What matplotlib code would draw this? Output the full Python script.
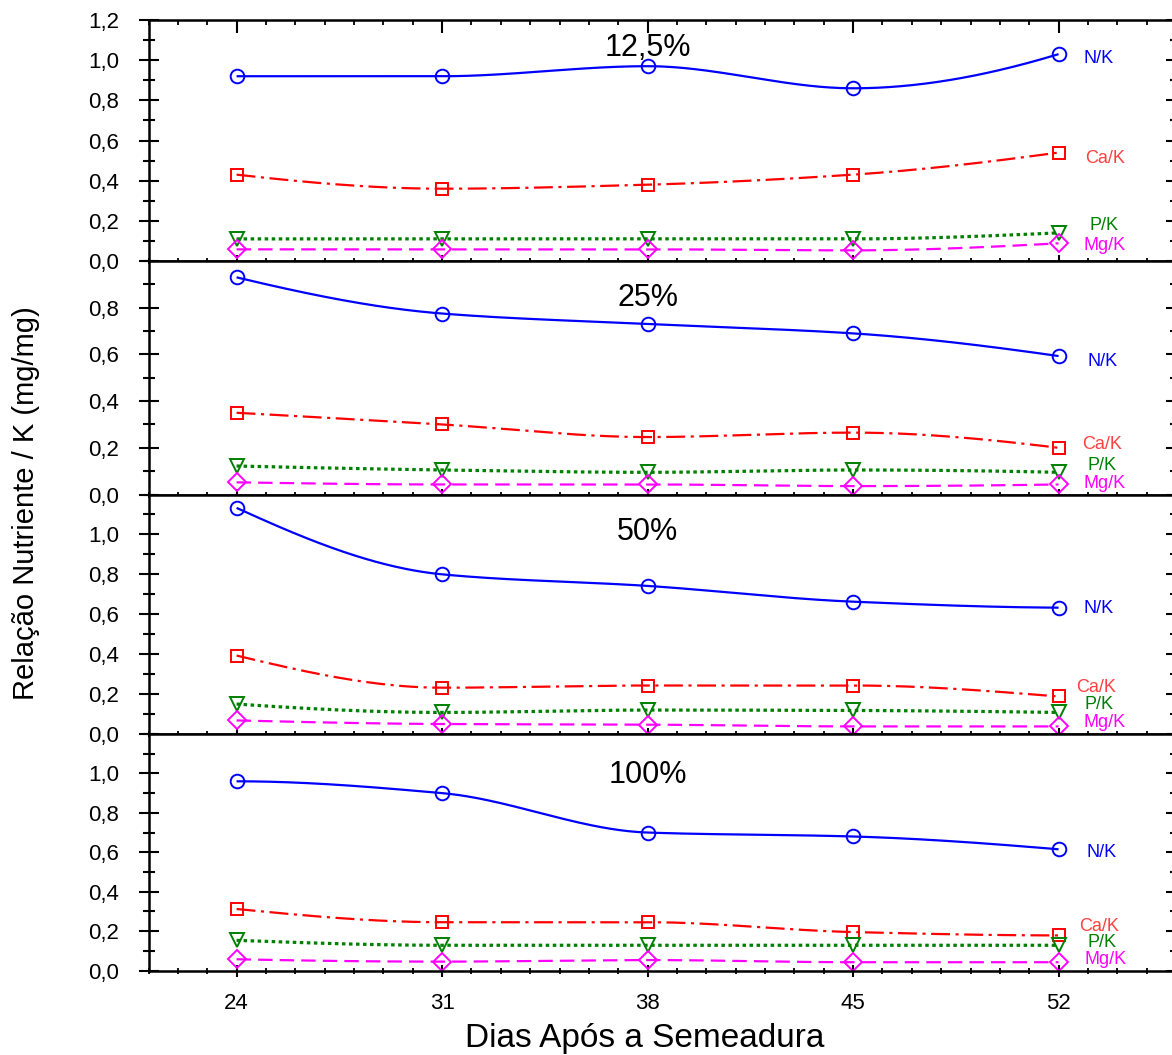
import numpy as np
import matplotlib
matplotlib.use("Agg")
import matplotlib.pyplot as plt
from matplotlib.ticker import MultipleLocator, FixedLocator, FuncFormatter

plt.rcParams['font.family'] = ['Liberation Sans', 'DejaVu Sans']

# ---------------- data ----------------
days = [24, 31, 38, 45, 52]
panel_titles = ['12,5%', '25%', '50%', '100%']
series_names = ['N/K', 'Ca/K', 'P/K', 'Mg/K']

nk_125 = [0.92, 0.92, 0.97, 0.86, 1.03]
cak_125 = [0.43, 0.36, 0.38, 0.43, 0.54]
pk_125 = [0.11, 0.11, 0.11, 0.11, 0.14]
mgk_125 = [0.058, 0.058, 0.058, 0.053, 0.088]

nk_25 = [0.93, 0.775, 0.73, 0.69, 0.593]
cak_25 = [0.35, 0.30, 0.246, 0.265, 0.20]
pk_25 = [0.122, 0.105, 0.095, 0.105, 0.095]
mgk_25 = [0.052, 0.043, 0.043, 0.036, 0.043]

nk_50 = [1.133, 0.80, 0.742, 0.663, 0.633]
cak_50 = [0.393, 0.232, 0.243, 0.243, 0.188]
pk_50 = [0.15, 0.108, 0.12, 0.118, 0.108]
mgk_50 = [0.068, 0.05, 0.047, 0.038, 0.038]

nk_100 = [0.96, 0.90, 0.70, 0.68, 0.615]
cak_100 = [0.312, 0.245, 0.245, 0.195, 0.178]
pk_100 = [0.153, 0.128, 0.128, 0.128, 0.128]
mgk_100 = [0.057, 0.045, 0.053, 0.042, 0.042]

panels = [
    [nk_125, cak_125, pk_125, mgk_125],
    [nk_25, cak_25, pk_25, mgk_25],
    [nk_50, cak_50, pk_50, mgk_50],
    [nk_100, cak_100, pk_100, mgk_100],
]

# ---------------- layout / style ----------------
W, H = 1172, 1055
bounds_px = [20, 261, 494.5, 734, 970.5]
left_px, right_px = 148.5, 1176
ylims = [1.2, 1.0, 1.2, 1.2]
major_ticks = [
    [0.0, 0.2, 0.4, 0.6, 0.8, 1.0, 1.2],
    [0.0, 0.2, 0.4, 0.6, 0.8],
    [0.0, 0.2, 0.4, 0.6, 0.8, 1.0],
    [0.0, 0.2, 0.4, 0.6, 0.8, 1.0],
]
title_y = [1.06, 0.843, 1.01, 0.99]
label_pos = [
    [(52.85, 1.01), (52.92, 0.51), (53.05, 0.178), (52.85, 0.075)],
    [(53.0, 0.571), (52.8, 0.214), (53.0, 0.124), (52.85, 0.046)],
    [(52.85, 0.63), (52.6, 0.232), (52.9, 0.146), (52.85, 0.058)],
    [(52.95, 0.60), (52.7, 0.225), (53.0, 0.140), (52.9, 0.056)],
]

colors = ['#0000ff', '#ff0000', '#008000', '#ff00ff']
text_colors = ['#0000ff', '#ff4040', '#008000', '#ff00ff']
markers = ['o', 's', 'v', 'D']
msizes = [9.8, 9.2, 10.0, 9.0]
lws = [1.6, 1.6, 2.3, 1.6]
lstyles = ['-', (0, (8.5, 2.5, 1.4, 2.5)), (0, (1.1, 1.1)), (0, (6.5, 3.2))]


def pchip(x, y, xs):
    x = np.asarray(x, float)
    y = np.asarray(y, float)
    h = np.diff(x)
    d = np.diff(y) / h
    n = len(x)
    m = np.zeros(n)
    for k in range(1, n - 1):
        if d[k - 1] * d[k] > 0:
            w1 = 2 * h[k] + h[k - 1]
            w2 = h[k] + 2 * h[k - 1]
            m[k] = (w1 + w2) / (w1 / d[k - 1] + w2 / d[k])
    def endslope(h0, h1, d0, d1):
        s = ((2 * h0 + h1) * d0 - h0 * d1) / (h0 + h1)
        if np.sign(s) != np.sign(d0):
            s = 0.0
        elif np.sign(d0) != np.sign(d1) and abs(s) > abs(3 * d0):
            s = 3 * d0
        return s
    m[0] = endslope(h[0], h[1], d[0], d[1])
    m[-1] = endslope(h[-1], h[-2], d[-1], d[-2])
    idx = np.clip(np.searchsorted(x, xs) - 1, 0, n - 2)
    t = (xs - x[idx]) / h[idx]
    h00 = 2 * t**3 - 3 * t**2 + 1
    h10 = t**3 - 2 * t**2 + t
    h01 = -2 * t**3 + 3 * t**2
    h11 = t**3 - t**2
    return (h00 * y[idx] + h10 * h[idx] * m[idx] + h01 * y[idx + 1]
            + h11 * h[idx] * m[idx + 1])


fmt = FuncFormatter(lambda v, p: f'{v:.1f}'.replace('.', ','))

fig = plt.figure(figsize=(W / 100, H / 100), dpi=100)
xs = np.linspace(days[0], days[-1], 400)

for i in range(4):
    top, bot = bounds_px[i], bounds_px[i + 1]
    ax = fig.add_axes([left_px / W, 1 - bot / H, (right_px - left_px) / W, (bot - top) / H])
    for j in range(4):
        vals = panels[i][j]
        ax.plot(xs, pchip(days, vals, xs), color=colors[j], lw=lws[j],
                linestyle=lstyles[j], solid_capstyle='butt', dash_capstyle='butt')
        ax.plot(days, vals, linestyle='none', marker=markers[j], ms=msizes[j],
                mfc='none', mec=colors[j], mew=1.4)
        lx, ly = label_pos[i][j]
        ax.text(lx, ly, series_names[j], color=text_colors[j], fontsize=13,
                ha='left', va='center')
    ax.text(38, title_y[i], panel_titles[i], fontsize=22, ha='center', va='center')

    ax.set_xlim(21, 56)
    ax.set_ylim(0, ylims[i])
    ax.xaxis.set_major_locator(FixedLocator(days))
    ax.xaxis.set_minor_locator(MultipleLocator(1))
    ax.yaxis.set_major_locator(FixedLocator(major_ticks[i]))
    ax.yaxis.set_minor_locator(MultipleLocator(0.1))
    ax.yaxis.set_major_formatter(fmt)

    for s in ax.spines.values():
        s.set_linewidth(1.8)
    ax.spines['right'].set_visible(False)

    ax.tick_params(axis='y', which='major', direction='inout', length=15, width=1.5,
                   left=True, right=True, labelsize=16, pad=13.5)
    ax.tick_params(axis='y', which='minor', direction='inout', length=8.6, width=1.5,
                   left=True, right=True)
    ax.tick_params(axis='x', which='major', direction='inout', length=8, width=1.5,
                   top=False, bottom=True, labelbottom=(i == 3), labelsize=16, pad=12.5)
    ax.tick_params(axis='x', which='minor', direction='inout', length=5, width=1.3,
                   top=False, bottom=True)
    if i == 0:
        ax.tick_params(axis='x', which='major', top=True)
        ax.tick_params(axis='x', which='minor', top=True)
        for t in ax.xaxis.get_major_ticks():
            t.tick2line.set_marker(3)
            t.tick2line.set_markersize(9.4)
        for t in ax.xaxis.get_minor_ticks():
            t.tick2line.set_marker(3)
            t.tick2line.set_markersize(3.6)

fig.text(645 / W, 1 - 1038 / H, 'Dias Após a Semeadura', fontsize=24,
         ha='center', va='center')
fig.text(26 / W, 1 - 503 / H, 'Relação Nutriente / K (mg/mg)', fontsize=21,
         rotation=90, ha='center', va='center')

fig.savefig('out.png', dpi=100)
